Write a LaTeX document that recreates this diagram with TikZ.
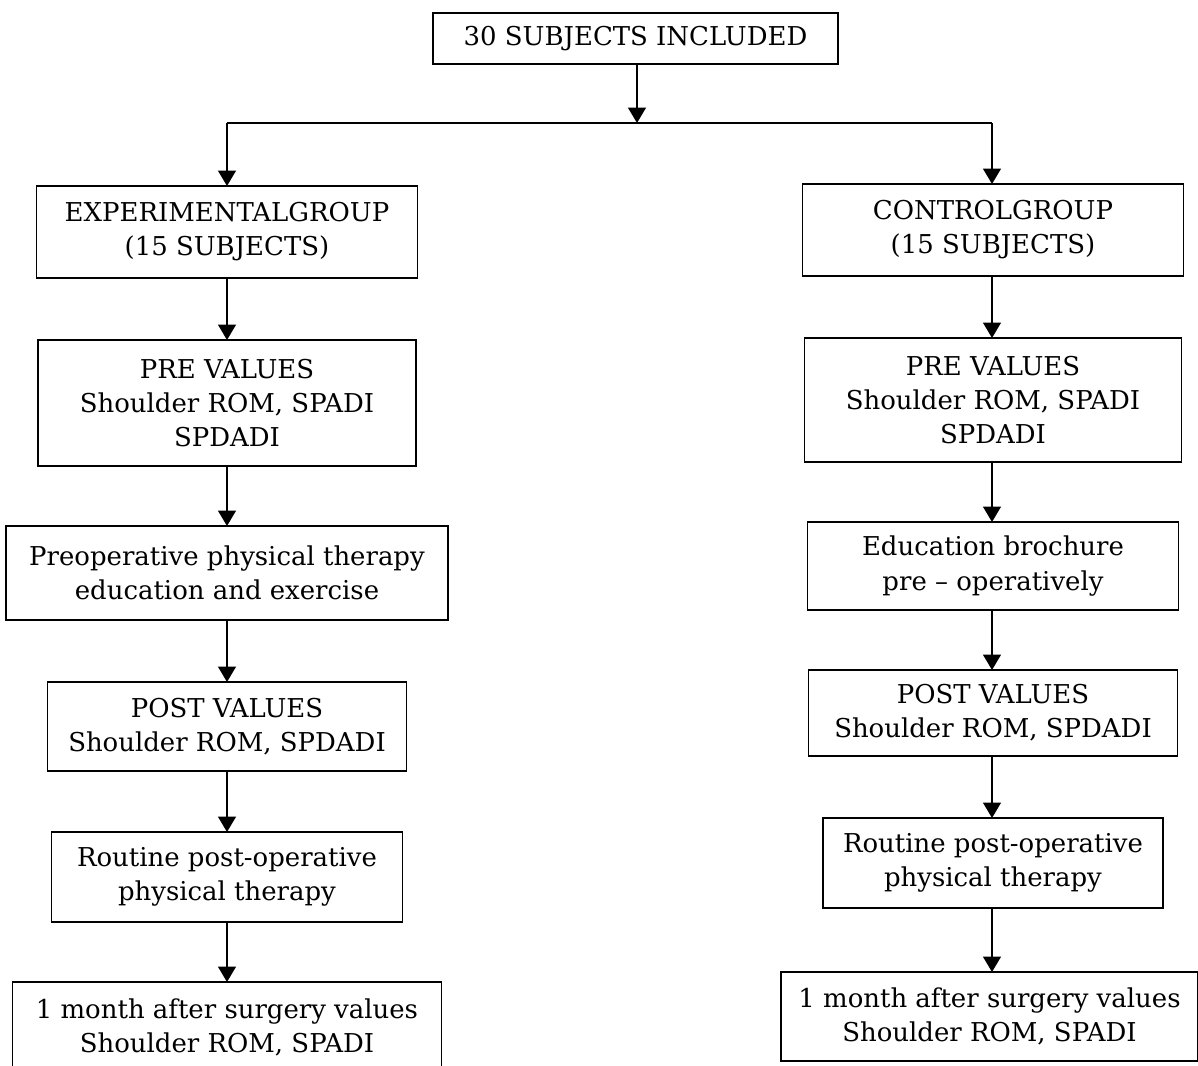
\documentclass[tikz,border=0pt]{standalone}
\usepackage{fontspec}
\setmainfont{DejaVu Serif}
\usetikzlibrary{arrows.meta}
\begin{document}
\begin{tikzpicture}[x=0.42pt,y=-0.42pt,
  stepbox/.style 2 args={draw,line width=0.75pt,inner sep=0pt,outer sep=0pt,
    minimum width=#1*0.42pt,minimum height=#2*0.42pt,align=center,
    font=\fontsize{10.9}{14.3}\selectfont},
  flow/.style={-{Triangle[length=6.5pt,width=7.5pt]},line width=0.85pt}]
\useasboundingbox (0,0) rectangle (1198,1065);
% top
\node[stepbox={405}{51}] (all) at (635.5,38.5) {30 SUBJECTS INCLUDED};
\coordinate (split) at (637,123);
\coordinate (sl) at (227,123);
\coordinate (sr) at (992,123);
% experimental group
\node[stepbox={381}{92}] (exp) at (227,232) {EXPERIMENTALGROUP\\(15 SUBJECTS)};
\node[stepbox={378}{126}] (epre) at (227,403) {PRE VALUES\\Shoulder ROM, SPADI\\SPDADI};
\node[stepbox={442}{94}] (etrain) at (227,573) {Preoperative physical therapy\\education and exercise};
\node[stepbox={359}{89}] (epost) at (227,726.5) {POST VALUES\\Shoulder ROM, SPDADI};
\node[stepbox={351}{90}] (erout) at (227,877) {Routine post-operative\\physical therapy};
\node[stepbox={429}{90}] (emonth) at (227,1027) {1 month after surgery values\\Shoulder ROM, SPADI};
% control group
\node[stepbox={381}{92}] (con) at (993,230) {CONTROLGROUP\\(15 SUBJECTS)};
\node[stepbox={377}{124}] (cpre) at (993,400) {PRE VALUES\\Shoulder ROM, SPADI\\SPDADI};
\node[stepbox={371}{88}] (cedu) at (993,566) {Education brochure\\pre -- operatively};
\node[stepbox={369}{86}] (cpost) at (993,713) {POST VALUES\\Shoulder ROM, SPDADI};
\node[stepbox={340}{90}] (crout) at (993,863) {Routine post-operative\\physical therapy};
\node[stepbox={417}{89}] (cmonth) at (989.5,1016.5) {1 month after surgery values\\Shoulder ROM, SPADI};
% connectors
\draw[flow] (all.south -| split) -- (split);
\draw[line width=0.85pt] (sl) -- (sr);
\draw[flow] (sl) -- (sl |- exp.north);
\draw[flow] (sr) -- (sr |- con.north);
\draw[flow] (sl |- exp.south) -- (sl |- epre.north);
\draw[flow] (sl |- epre.south) -- (sl |- etrain.north);
\draw[flow] (sl |- etrain.south) -- (sl |- epost.north);
\draw[flow] (sl |- epost.south) -- (sl |- erout.north);
\draw[flow] (sl |- erout.south) -- (sl |- emonth.north);
\draw[flow] (sr |- con.south) -- (sr |- cpre.north);
\draw[flow] (sr |- cpre.south) -- (sr |- cedu.north);
\draw[flow] (sr |- cedu.south) -- (sr |- cpost.north);
\draw[flow] (sr |- cpost.south) -- (sr |- crout.north);
\draw[flow] (sr |- crout.south) -- (sr |- cmonth.north);
\end{tikzpicture}
\end{document}
